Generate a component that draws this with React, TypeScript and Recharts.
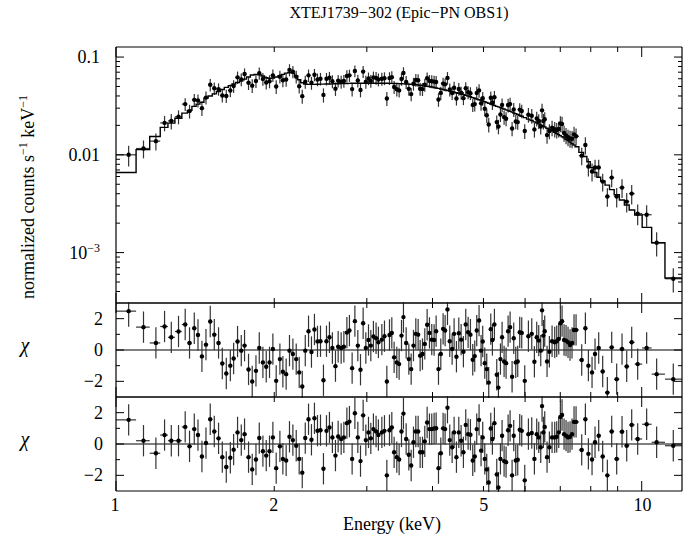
import { ComposedChart, Scatter, XAxis, YAxis, ErrorBar, ReferenceLine } from 'recharts';

const SERIF = '"Liberation Serif", "Times New Roman", Times, serif';

// bin centres, keV
const energy = [
  1.057, 1.128, 1.191, 1.237, 1.274, 1.315, 1.354, 1.380, 1.409, 1.432,
  1.457, 1.483, 1.511, 1.538, 1.567, 1.593, 1.621, 1.650, 1.674, 1.703,
  1.731, 1.756, 1.787, 1.816, 1.846, 1.873, 1.903, 1.931, 1.959, 1.988,
  2.017, 2.050, 2.077, 2.107, 2.138, 2.170, 2.202, 2.231, 2.261, 2.291,
  2.324, 2.354, 2.385, 2.417, 2.449, 2.481, 2.514, 2.547, 2.580, 2.615,
  2.646, 2.681, 2.713, 2.749, 2.780, 2.813, 2.847, 2.884, 2.918, 2.952,
  2.987, 3.022, 3.053, 3.088, 3.124, 3.156,
  3.204, 3.241, 3.275, 3.313, 3.347, 3.381, 3.421, 3.456, 3.492, 3.522,
  3.564, 3.606, 3.643, 3.680, 3.718, 3.756, 3.789, 3.828, 3.867, 3.907,
  3.947, 3.987, 4.028, 4.064, 4.106, 4.148, 4.190, 4.227, 4.271, 4.314,
  4.359, 4.397, 4.442, 4.488, 4.534, 4.580, 4.627, 4.675, 4.723, 4.771,
  4.813, 4.855, 4.905, 4.948, 4.984, 5.029, 5.073, 5.117, 5.163, 5.200,
  5.246, 5.300, 5.339, 5.386, 5.425, 5.473, 5.521, 5.570, 5.619, 5.668,
  5.709, 5.760, 5.810, 5.861, 5.913, 5.991, 6.088, 6.178, 6.250, 6.314,
  6.370, 6.426, 6.463, 6.501, 6.539, 6.606, 6.674, 6.753, 6.832, 6.892,
  6.953, 7.003, 7.055, 7.117, 7.179, 7.242, 7.306, 7.370, 7.435, 7.501,
  7.689, 7.814, 7.917, 8.045, 8.151, 8.283, 8.429, 8.603, 8.768, 8.962,
  9.174, 9.364, 9.571, 9.825, 10.219, 10.676, 11.483,
];

// folded model (normalized counts s^-1 keV^-1)
const model = [
  0.0066, 0.0113, 0.0154, 0.0191, 0.0211, 0.0237, 0.0267, 0.0285, 0.0313, 0.0330,
  0.0345, 0.0380, 0.0400, 0.0420, 0.0445, 0.0465, 0.0490, 0.0510, 0.0530, 0.0550,
  0.0570, 0.0595, 0.0625, 0.0655, 0.0665, 0.0660, 0.0640, 0.0615, 0.0605, 0.0610,
  0.0625, 0.0645, 0.0665, 0.0685, 0.0695, 0.0685, 0.0640, 0.0585, 0.0545, 0.0530,
  0.0525, 0.0525, 0.0526, 0.0527, 0.0528, 0.0529, 0.0530, 0.0531, 0.0532, 0.0533,
  0.0534, 0.0535, 0.0536, 0.0537, 0.0538, 0.0539, 0.0540, 0.0540, 0.0540, 0.0540,
  0.0540, 0.0540, 0.0540, 0.0540, 0.0540, 0.0540,
  0.0540, 0.0539, 0.0539, 0.0538, 0.0538, 0.0537, 0.0536, 0.0535, 0.0534, 0.0532,
  0.0530, 0.0528, 0.0526, 0.0524, 0.0521, 0.0518, 0.0515, 0.0511, 0.0507, 0.0503,
  0.0499, 0.0494, 0.0488, 0.0483, 0.0478, 0.0472, 0.0465, 0.0460, 0.0454, 0.0448,
  0.0442, 0.0437, 0.0431, 0.0425, 0.0419, 0.0413, 0.0406, 0.0399, 0.0392, 0.0385,
  0.0379, 0.0373, 0.0366, 0.0360, 0.0355, 0.0349, 0.0343, 0.0337, 0.0331, 0.0326,
  0.0320, 0.0313, 0.0309, 0.0304, 0.0299, 0.0294, 0.0288, 0.0283, 0.0278, 0.0273,
  0.0268, 0.0263, 0.0258, 0.0253, 0.0248, 0.0240, 0.0232, 0.0224, 0.0217, 0.0212,
  0.0207, 0.0202, 0.0199, 0.0196, 0.0193, 0.0187, 0.0182, 0.0176, 0.0170, 0.0165,
  0.0161, 0.0157, 0.0153, 0.0149, 0.0144, 0.0140, 0.0135, 0.0130, 0.0126, 0.0121,
  0.0106, 0.0096, 0.0085, 0.0074, 0.0066, 0.0059, 0.0054, 0.0049, 0.0044, 0.0039,
  0.00345, 0.00307, 0.00273, 0.00242, 0.00181, 0.00126, 0.00055,
];

const flux = [
  0.0100, 0.0116, 0.0138, 0.0212, 0.0222, 0.0245, 0.0330, 0.0280, 0.0365, 0.0360,
  0.0300, 0.0385, 0.0520, 0.0480, 0.0470, 0.0405, 0.0400, 0.0455, 0.0505, 0.0620,
  0.0590, 0.0670, 0.0545, 0.0510, 0.0570, 0.0685, 0.0598, 0.0550, 0.0565, 0.0650,
  0.0500, 0.0630, 0.0580, 0.0590, 0.0740, 0.0710, 0.0630, 0.0503, 0.0398, 0.0560,
  0.0650, 0.0545, 0.0660, 0.0590, 0.0600, 0.0410, 0.0600, 0.0615, 0.0565, 0.0475,
  0.0572, 0.0560, 0.0570, 0.0640, 0.0650, 0.0470, 0.0720, 0.0575, 0.0460, 0.0710,
  0.0560, 0.0605, 0.0570, 0.0620, 0.0612, 0.0590,
  0.0600, 0.0607, 0.0377, 0.0609, 0.0623, 0.0494, 0.0468, 0.0456, 0.0598, 0.0687,
  0.0555, 0.0473, 0.0418, 0.0533, 0.0584, 0.0580, 0.0474, 0.0470, 0.0520, 0.0606,
  0.0570, 0.0565, 0.0561, 0.0556, 0.0368, 0.0430, 0.0535, 0.0526, 0.0612, 0.0465,
  0.0428, 0.0486, 0.0377, 0.0472, 0.0432, 0.0380, 0.0480, 0.0437, 0.0427, 0.0324,
  0.0330, 0.0430, 0.0456, 0.0336, 0.0379, 0.0296, 0.0254, 0.0204, 0.0383, 0.0343,
  0.0388, 0.0216, 0.0195, 0.0258, 0.0324, 0.0243, 0.0234, 0.0323, 0.0330, 0.0186,
  0.0291, 0.0219, 0.0216, 0.0290, 0.0281, 0.0175, 0.0257, 0.0251, 0.0182, 0.0235,
  0.0222, 0.0195, 0.0285, 0.0222, 0.0231, 0.0159, 0.0175, 0.0189, 0.0183, 0.0179,
  0.0184, 0.0209, 0.0207, 0.0167, 0.0158, 0.0151, 0.0147, 0.0146, 0.0162, 0.0155,
  0.0098, 0.0126, 0.00759, 0.00674, 0.00741, 0.00741, 0.00532, 0.00374, 0.00585, 0.00374,
  0.00462, 0.00332, 0.00401, 0.00250, 0.00244, 0.00126, 0.00054,
];

const fluxErr = [
  0.0024, 0.0024, 0.0027, 0.0038, 0.0040, 0.0040, 0.0050, 0.0045, 0.0055, 0.0055,
  0.0050, 0.0058, 0.0075, 0.0070, 0.0068, 0.0062, 0.0062, 0.0068, 0.0075, 0.0090,
  0.0088, 0.0095, 0.0085, 0.0082, 0.0088, 0.0098, 0.0090, 0.0085, 0.0086, 0.0095,
  0.0080, 0.0095, 0.0090, 0.0092, 0.0105, 0.0102, 0.0095, 0.0080, 0.0065, 0.0085,
  0.0095, 0.0082, 0.0095, 0.0088, 0.0088, 0.0068, 0.0088, 0.0090, 0.0085, 0.0075,
  0.0085, 0.0085, 0.0085, 0.0092, 0.0093, 0.0074, 0.0100, 0.0086, 0.0073, 0.0099,
  0.0085, 0.0089, 0.0086, 0.0090, 0.0090, 0.0088,
  0.0090, 0.0091, 0.0062, 0.0091, 0.0093, 0.0076, 0.0072, 0.0070, 0.0090, 0.0100,
  0.0084, 0.0072, 0.0065, 0.0080, 0.0087, 0.0087, 0.0072, 0.0071, 0.0078, 0.0090,
  0.0085, 0.0085, 0.0084, 0.0083, 0.0058, 0.0066, 0.0080, 0.0079, 0.0090, 0.0070,
  0.0065, 0.0073, 0.0058, 0.0071, 0.0065, 0.0058, 0.0072, 0.0066, 0.0064, 0.0050,
  0.0053, 0.0068, 0.0072, 0.0054, 0.0061, 0.0048, 0.0042, 0.0035, 0.0061, 0.0055,
  0.0062, 0.0036, 0.0033, 0.0042, 0.0052, 0.0040, 0.0038, 0.0052, 0.0053, 0.0031,
  0.0047, 0.0036, 0.0036, 0.0046, 0.0045, 0.0030, 0.0044, 0.0043, 0.0032, 0.0040,
  0.0038, 0.0034, 0.0048, 0.0040, 0.0041, 0.0029, 0.0031, 0.0034, 0.0033, 0.0032,
  0.0034, 0.0039, 0.0038, 0.0031, 0.0030, 0.0029, 0.0029, 0.0029, 0.0032, 0.0031,
  0.0020, 0.0025, 0.0016, 0.0014, 0.0015, 0.0015, 0.0011, 0.0008, 0.0012, 0.00085,
  0.0010, 0.00075, 0.0009, 0.0006, 0.0006, 0.00035, 0.00015,
];

// residuals (chi) of the two fits
const chiFit1 = [
  2.48, 1.46, 0.45, 1.5, 0.81, 1.18, 1.63, 0.45, 1.39, 0.96,
  -0.41, 0.34, 1.82, 0.98, 0.45, -0.86, -1.5, -1.0, -0.54, 0.54,
  -0.04, 0.28, -1.24, -2.01, -1.33, 0.13, -0.79, -1.07, -0.79, 0.06,
  -1.97, -0.58, -1.39, -1.54, -0.04, -0.26, -0.58, -1.43, -2.33, -0.04,
  1.2, -0.13, 1.31, 0.55, 0.56, -1.93, 0.56, 0.81, 0.13, -1.03,
  0.21, 0.13, 0.21, 1.11, 1.24, -1.16, 1.84, 0.28, -1.26, 1.71,
  0.13, 0.64, 0.28, 0.86, 0.75, 0.49,
  0.66, 0.88, -2.01, 0.96, 1.09, -0.47, -0.79, -0.9, 0.92, 2.1,
  0.45, -0.58, -1.22, 0.28, 1.03, 0.98, -0.36, -0.26, 0.39, 1.61,
  1.09, 0.66, 0.64, 1.2, -1.22, -0.26, 1.35, 1.24, 2.59, 0.56,
  0.06, 1.03, -0.43, 1.07, 0.66, -0.11, 1.63, 1.13, 0.98, -0.62,
  -0.39, 1.24, 1.88, -0.04, 0.54, -0.84, -1.22, -2.08, 1.33, 0.64,
  1.63, -1.58, -2.4, -0.58, 0.81, -0.73, -0.84, 1.2, 1.46, -1.71,
  0.75, -0.79, -0.73, 1.13, 1.09, -1.97, 0.88, 1.03, -0.75, 0.81,
  0.6, -0.04, 2.53, 0.92, 1.2, -0.73, -0.11, 0.56, 0.49, 0.56,
  0.71, 1.71, 1.84, 0.64, 0.6, 0.49, 0.32, 0.45, 1.28, 1.28,
  -0.64, 1.39, -1.0, -1.43, -0.26, 0.13, -1.37, -2.72, 0.17, -1.86,
  0.06, -1.05, 0.49, -0.9, 0.13, -1.54, -1.86,
];

const chiFit2 = [
  1.54, 0.21, -0.59, 0.57, 0.21, 0.21, 1.09, -0.15, 0.95, 0.57,
  -0.8, 0.06, 1.58, 0.8, 0.36, -0.84, -1.47, -0.88, -0.36, 0.74,
  0.25, 0.63, -0.84, -1.62, -0.99, 0.38, -0.46, -0.74, -0.46, 0.42,
  -1.54, -0.15, -0.95, -1.05, 0.46, 0.25, -0.11, -0.95, -1.83, 0.38,
  1.58, 0.27, 1.64, 0.85, 0.88, -1.58, 0.84, 1.05, 0.42, -0.74,
  0.48, 0.32, 0.42, 1.33, 1.43, -0.95, 1.96, 0.42, -1.09, 1.83,
  0.25, 0.74, 0.36, 0.95, 0.8, 0.57,
  0.74, 0.84, -2.0, 0.88, 1.05, -0.53, -0.84, -0.99, 0.8, 1.94,
  0.32, -0.69, -1.37, 0.11, 0.8, 0.8, -0.53, -0.53, 0.17, 1.37,
  0.95, 0.95, 0.99, 1.01, -1.54, -0.59, 1.0, 0.95, 2.32, 0.25,
  -0.21, 0.74, -0.84, 0.74, 0.21, -0.53, 1.22, 0.63, 0.59, -1.05,
  -0.8, 0.95, 1.54, -0.42, 0.42, -0.95, -1.62, -2.46, 0.99, 0.32,
  1.33, -1.94, -2.78, -0.95, 0.53, -1.09, -1.16, 0.88, 1.16, -2.0,
  0.53, -1.05, -1.01, 0.91, 0.84, -2.32, 0.63, 0.7, -0.95, 0.63,
  0.42, -0.21, 2.42, 0.74, 1.09, -0.84, -0.21, 0.42, 0.42, 0.46,
  0.74, 1.73, 1.85, 0.63, 0.53, 0.42, 0.46, 0.63, 1.41, 1.41,
  -0.38, 1.58, -0.63, -0.99, 0.11, 0.53, -0.8, -2.0, 0.8, -0.95,
  0.78, -0.11, 1.22, 0.32, 1.26, 0.11, -0.11,
];

const xTicks = [1, 2, 3, 4, 5, 6, 7, 8, 9, 10];
const xTickLabels = [1, 2, 5, 10];
const specTicks = [
  4e-4, 5e-4, 6e-4, 7e-4, 8e-4, 9e-4,
  1e-3, 2e-3, 3e-3, 4e-3, 5e-3, 6e-3, 7e-3, 8e-3, 9e-3,
  1e-2, 2e-2, 3e-2, 4e-2, 5e-2, 6e-2, 7e-2, 8e-2, 9e-2, 0.1,
];
const chiTicks = [-2, -1, 0, 1, 2];
const chiTickLabels = [-2, 0, 2];

const E_MIN = 1;
const E_MAX = 11.93;

// bin edges, half way (in log) between neighbouring centres
const lowEdge = energy.map((e, i) => (i === 0 ? E_MIN : Math.sqrt(energy[i - 1] * e)));
const highEdge = energy.map((e, i) => (i === energy.length - 1 ? E_MAX : Math.sqrt(e * energy[i + 1])));
const xErr = energy.map((e, i) => [e - lowEdge[i], highEdge[i] - e]);

const spectrum = energy.map((e, i) => ({ e, v: flux[i], ye: fluxErr[i], xe: xErr[i] }));
const modelSteps = energy.flatMap((_, i) => [
  { e: lowEdge[i], v: model[i] },
  { e: highEdge[i], v: model[i] },
]);
const resid1 = energy.map((e, i) => ({ e, v: chiFit1[i], ye: 1, xe: xErr[i] }));
const resid2 = energy.map((e, i) => ({ e, v: chiFit2[i], ye: 1, xe: xErr[i] }));

const isDecade = (v: number) => Math.abs(Math.log10(v) - Math.round(Math.log10(v))) < 1e-6;

// axes are 1px wide, so the plot box runs from x=116 to x=682
const MARGIN_X = { left: 115, right: 14 };

function xTick(side: 'top' | 'bottom', marks: boolean, labels: boolean) {
  return (p: any) => {
    const v = p.payload.value;
    const len = v === 1 || v === 10 ? 10 : 5;
    const dir = side === 'bottom' ? -1 : 1;
    return (
      <g>
        {marks ? <line x1={p.x} x2={p.x} y1={p.y} y2={p.y + dir * len} stroke="#000" strokeWidth={1} /> : null}
        {labels && xTickLabels.includes(v) ? (
          <text x={p.x} y={p.y + 20} textAnchor="middle" fontFamily={SERIF} fontSize={18} fill="#000">
            {v}
          </text>
        ) : null}
      </g>
    );
  };
}

function specTick(side: 'left' | 'right') {
  return (p: any) => {
    const v = p.payload.value;
    const major = isDecade(v);
    const len = major ? 8 : 4;
    const dir = side === 'left' ? 1 : -1;
    const exp = Math.round(Math.log10(v));
    return (
      <g>
        <line x1={p.x} x2={p.x + dir * len} y1={p.y} y2={p.y} stroke="#000" strokeWidth={1} />
        {side === 'left' && major ? (
          <text x={p.x - 16} y={p.y + 6} textAnchor="end" fontFamily={SERIF} fontSize={18} fill="#000">
            {exp >= -2 ? String(v) : (
              <>
                10<tspan dy={-7} fontSize={12}>{'\u2212' + String(-exp)}</tspan>
              </>
            )}
          </text>
        ) : null}
      </g>
    );
  };
}

function chiTick(side: 'left' | 'right') {
  return (p: any) => {
    const v = p.payload.value;
    const len = v % 2 === 0 ? 8 : 4;
    const dir = side === 'left' ? 1 : -1;
    return (
      <g>
        <line x1={p.x} x2={p.x + dir * len} y1={p.y} y2={p.y} stroke="#000" strokeWidth={1} />
        {side === 'left' && chiTickLabels.includes(v) ? (
          <text x={p.x - 13} y={p.y + 6} textAnchor="end" fontFamily={SERIF} fontSize={18} fill="#000">
            {v < 0 ? '\u2212' + Math.abs(v) : v}
          </text>
        ) : null}
      </g>
    );
  };
}

const DataDot = (p: any) => <circle cx={p.cx} cy={p.cy} r={2.2} fill="#000" />;
const NoDot = () => <g />;

const frame = { stroke: '#000', strokeWidth: 1.2 };

function xAxes() {
  return [
    <XAxis
      key="xb"
      dataKey="e"
      type="number"
      scale="log"
      domain={[E_MIN, E_MAX]}
      allowDataOverflow
      ticks={xTicks}
      interval={0}
      height={1}
      tickSize={0}
      tickMargin={0}
      tickLine={false}
      axisLine={frame}
      tick={xTick('bottom', true, false)}
    />,
    <XAxis
      key="xt"
      xAxisId="top"
      orientation="top"
      dataKey="e"
      type="number"
      scale="log"
      domain={[E_MIN, E_MAX]}
      allowDataOverflow
      ticks={xTicks}
      interval={0}
      height={1}
      tickSize={0}
      tickMargin={0}
      tickLine={false}
      axisLine={frame}
      tick={xTick('top', true, false)}
    />,
  ];
}

function yAxes(domain: number[], ticks: number[], log: boolean, tickFn: (s: 'left' | 'right') => any) {
  return [
    <YAxis
      key="yl"
      type="number"
      scale={log ? 'log' : 'auto'}
      domain={domain}
      allowDataOverflow
      ticks={ticks}
      interval={0}
      width={1}
      tickSize={0}
      tickMargin={0}
      tickLine={false}
      axisLine={frame}
      tick={tickFn('left')}
    />,
    <YAxis
      key="yr"
      yAxisId="right"
      orientation="right"
      type="number"
      scale={log ? 'log' : 'auto'}
      domain={domain}
      allowDataOverflow
      ticks={ticks}
      interval={0}
      width={1}
      tickSize={0}
      tickMargin={0}
      tickLine={false}
      axisLine={frame}
      tick={tickFn('right')}
    />,
  ];
}

// residual panel: plot box 94px high, clipped to the box so error bars stop at its edges
function ResidualPanel({ data, top }: { data: any[]; top: number }) {
  return (
    <div style={{ position: 'absolute', left: 0, top, clipPath: 'inset(9px 0px 9px 0px)' }}>
      <ComposedChart width={697} height={114} margin={{ top: 9, bottom: 9, ...MARGIN_X }}>
        {xAxes()}
        {yAxes([-3, 3], chiTicks, false, chiTick)}
        <ReferenceLine y={0} stroke="#000" strokeWidth={1.2} />
        <Scatter data={data} dataKey="v" shape={DataDot} isAnimationActive={false}>
          <ErrorBar dataKey="ye" direction="y" width={0} stroke="#333" strokeWidth={1.2} />
          <ErrorBar dataKey="xe" direction="x" width={0} stroke="#333" strokeWidth={1.2} />
        </Scatter>
      </ComposedChart>
    </div>
  );
}

export default function App() {
  return (
    <div style={{ position: 'absolute', left: 0, top: 0, width: 697, height: 541, background: '#fff' }}>
      <div style={{ position: 'absolute', left: 0, top: 0 }}>
        <ComposedChart width={697} height={305} margin={{ top: 46, bottom: 1, ...MARGIN_X }}>
          {xAxes()}
          {yAxes([3.05e-4, 0.1267], specTicks, true, specTick)}
          <Scatter
            data={modelSteps}
            dataKey="v"
            shape={NoDot}
            line={{ stroke: '#000', strokeWidth: 1.4 }}
            isAnimationActive={false}
          />
          <Scatter data={spectrum} dataKey="v" shape={DataDot} isAnimationActive={false}>
            <ErrorBar dataKey="ye" direction="y" width={0} stroke="#333" strokeWidth={1.2} />
            <ErrorBar dataKey="xe" direction="x" width={0} stroke="#333" strokeWidth={1.2} />
          </Scatter>
        </ComposedChart>
      </div>
      <ResidualPanel data={resid1} top={293} />
      <ResidualPanel data={resid2} top={387} />
      {/* energy tick labels under the bottom panel */}
      <div style={{ position: 'absolute', left: 0, top: 471 }}>
        <ComposedChart width={697} height={60} margin={{ top: 10, bottom: 39, ...MARGIN_X }}>
          <XAxis
            dataKey="e"
            type="number"
            scale="log"
            domain={[E_MIN, E_MAX]}
            allowDataOverflow
            ticks={xTicks}
            interval={0}
            height={1}
            tickSize={0}
            tickMargin={0}
            tickLine={false}
            axisLine={false}
            tick={xTick('bottom', false, true)}
          />
          <YAxis hide domain={[0, 1]} width={1} />
        </ComposedChart>
      </div>
      <svg
        width={697}
        height={541}
        style={{ position: 'absolute', left: 0, top: 0, pointerEvents: 'none' }}
        fontFamily={SERIF}
        fill="#000"
      >
        <text x={399} y={18} textAnchor="middle" fontSize={16}>
          XTEJ1739{'\u2212'}302 (Epic{'\u2212'}PN OBS1)
        </text>
        <text transform="translate(34,197) rotate(-90)" textAnchor="middle" fontSize={18}>
          normalized counts s<tspan dy={-7} fontSize={12}>{'\u2212'}1</tspan>
          <tspan dy={7}> keV</tspan>
          <tspan dy={-7} fontSize={12}>{'\u2212'}1</tspan>
        </text>
        <text x={25} y={352} textAnchor="middle" fontSize={20} fontStyle="italic">
          χ
        </text>
        <text x={25} y={446} textAnchor="middle" fontSize={20} fontStyle="italic">
          χ
        </text>
        <text x={392} y={530} textAnchor="middle" fontSize={18}>
          Energy (keV)
        </text>
      </svg>
    </div>
  );
}
